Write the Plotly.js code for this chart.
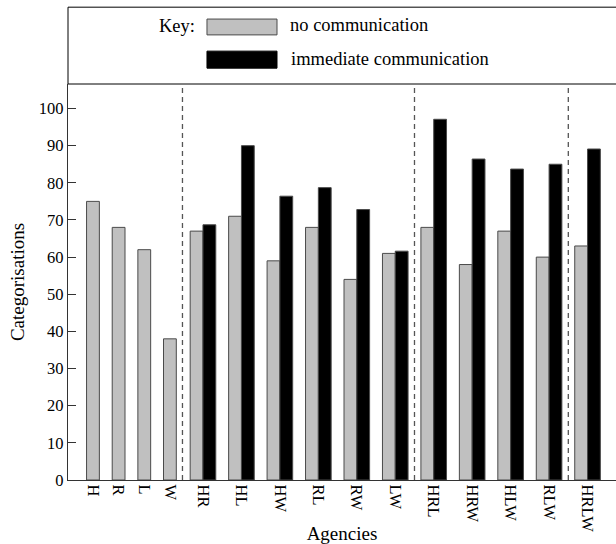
<!DOCTYPE html>
<html>
<head>
<meta charset="utf-8">
<script src="https://cdn.plot.ly/plotly-3.0.1.min.js"></script>
<style>html,body{margin:0;padding:0;background:#fff;}#chart{width:616px;height:544px;}</style>
</head>
<body>
<div id="chart"></div>
<script>
// Single agencies (no communication only)
var singleAgencies = ['H', 'R', 'L', 'W'];
var singleNoComm = [75, 68, 62, 38];

// Agency combinations
var comboAgencies = ['HR', 'HL', 'HW', 'RL', 'RW', 'LW', 'HRL', 'HRW', 'HLW', 'RLW', 'HRLW'];
var comboNoComm = [67, 71, 59, 68, 54, 61, 68, 58, 67, 60, 63];
var comboImmComm = [68.7, 90, 76.4, 78.7, 72.8, 61.6, 97.1, 86.4, 83.7, 85, 89.1];

var seriesNames = ['no communication', 'immediate communication'];

// ---- layout positions (computed, not data) ----
var pairStep = 1, singleStep = 0.667, barW = 0.333;
var singlePos = singleAgencies.map(function (d, i) { return -0.86 - (singleAgencies.length - 1 - i) * singleStep; });
var comboPos = comboAgencies.map(function (d, j) { return j * pairStep; });

var grayX = singlePos.concat(comboPos.map(function (p) { return p - barW / 2; }));
var grayY = singleNoComm.concat(comboNoComm);
var blackX = comboPos.map(function (p) { return p + barW / 2; });

var font = 'Liberation Serif';

var traces = [
  {
    type: 'bar', name: seriesNames[0], x: grayX, y: grayY, width: barW,
    marker: { color: '#c0c0c0', line: { color: '#4a4a4a', width: 1 } },
    showlegend: false, hoverinfo: 'y'
  },
  {
    type: 'bar', name: seriesNames[1], x: blackX, y: comboImmComm, width: barW,
    marker: { color: '#000000', line: { color: '#4a4a4a', width: 1 } },
    showlegend: false, hoverinfo: 'y'
  }
];

var sepX = [(singlePos[singlePos.length - 1] + comboPos[0] - barW / 2) / 2 - 0.02,
            (comboPos[5] + comboPos[6]) / 2, (comboPos[9] + comboPos[10]) / 2];

var shapes = [];
sepX.forEach(function (x) {
  shapes.push({ type: 'line', xref: 'x', yref: 'paper', x0: x, x1: x, y0: 0, y1: 1,
    line: { color: '#555', width: 1.3, dash: '5px,4px' } });
});
// key box
shapes.push({ type: 'rect', xref: 'paper', yref: 'paper', x0: 0, x1: 1.02, y0: 1, y1: 1.194,
  line: { color: '#000', width: 1 }, fillcolor: 'rgba(0,0,0,0)' });
// key swatches
shapes.push({ type: 'rect', xref: 'paper', yref: 'paper', x0: 0.2536, x1: 0.3814, y0: 1.124, y1: 1.164,
  line: { color: '#4a4a4a', width: 1 }, fillcolor: '#c0c0c0' });
shapes.push({ type: 'rect', xref: 'paper', yref: 'paper', x0: 0.2536, x1: 0.3814, y0: 1.040, y1: 1.083,
  line: { color: '#000', width: 1 }, fillcolor: '#000' });

var annotations = [
  { xref: 'paper', yref: 'paper', x: 0.2354, y: 1.146, text: 'Key:', showarrow: false,
    xanchor: 'right', yanchor: 'middle', font: { family: font, size: 18.5, color: '#000' } },
  { xref: 'paper', yref: 'paper', x: 0.4015, y: 1.148, text: seriesNames[0], showarrow: false,
    xanchor: 'left', yanchor: 'middle', font: { family: font, size: 18.5, color: '#000' } },
  { xref: 'paper', yref: 'paper', x: 0.4033, y: 1.064, text: seriesNames[1], showarrow: false,
    xanchor: 'left', yanchor: 'middle', font: { family: font, size: 18.5, color: '#000' } }
];

var layout = {
  width: 616, height: 544,
  margin: { l: 68, r: 0, t: 84, b: 64 },
  paper_bgcolor: '#fff', plot_bgcolor: '#fff',
  barmode: 'overlay',
  font: { family: font, color: '#000' },
  xaxis: {
    range: [-3.51, 10.74],
    tickvals: singlePos.concat(comboPos),
    ticktext: singleAgencies.concat(comboAgencies),
    tickangle: 90,
    ticks: '', showgrid: false, zeroline: false,
    showline: true, linecolor: '#333', linewidth: 1.3,
    tickfont: { family: font, size: 16.5, color: '#000' },
    title: { text: 'Agencies', font: { family: font, size: 19, color: '#000' }, standoff: 8 }
  },
  yaxis: {
    range: [0, 106.6],
    tickvals: [0, 10, 20, 30, 40, 50, 60, 70, 80, 90, 100],
    ticks: 'inside', ticklen: 8, tickcolor: '#333', tickwidth: 1,
    showgrid: false, zeroline: false,
    showline: true, linecolor: '#333', linewidth: 1.3,
    tickfont: { family: font, size: 16.5, color: '#000' },
    title: { text: 'Categorisations', font: { family: font, size: 19, color: '#000' }, standoff: 9 }
  },
  shapes: shapes,
  annotations: annotations
};

Plotly.newPlot('chart', traces, layout, { displayModeBar: false, staticPlot: true });
</script>
</body>
</html>
